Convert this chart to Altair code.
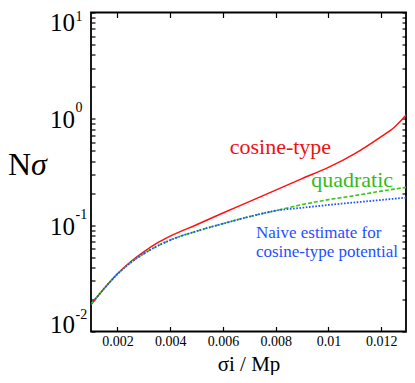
import altair as alt
import pandas as pd

# ---- data ----
sigma = [0.001, 0.0015, 0.002, 0.0025, 0.003, 0.0035, 0.004, 0.005, 0.006,
         0.007, 0.008, 0.009, 0.010, 0.011, 0.012, 0.0125, 0.013]
n_cosine = [0.018, 0.0254, 0.0349, 0.0453, 0.0562, 0.0677, 0.0788, 0.101,
            0.130, 0.1665, 0.2135, 0.274, 0.349, 0.471, 0.681, 0.834, 1.125]
n_quadratic = [0.018, 0.0254, 0.0346, 0.0444, 0.0539, 0.0634, 0.0723, 0.0878,
               0.1033, 0.1202, 0.1369, 0.156, 0.1738, 0.1895, 0.2089, 0.2183,
               0.228]
n_naive = [0.018, 0.0254, 0.0346, 0.0444, 0.0539, 0.0634, 0.0723, 0.0878,
           0.1033, 0.1202, 0.1369, 0.1458, 0.1549, 0.1636, 0.1726, 0.1773,
           0.182]

x_ticks = [0.002, 0.004, 0.006, 0.008, 0.01, 0.012]
y_ticks = [d * 10.0 ** e for e in (-2, -1, 0) for d in range(1, 10)] + [10.0]
y_label_exponents = [1, 0, -1, -2]

ann_cos = {"x": [0.00818], "y": [0.466], "t": ["cosine-type"]}
ann_quad = {"x": [0.0109], "y": [0.229], "t": ["quadratic"]}
ann_naive = {"x": [0.00725, 0.00725], "y": [0.0755, 0.050],
             "t": ["Naive estimate for", "cosine-type potential"]}

FONT = "Liberation Serif, 'Times New Roman', Times, 'DejaVu Serif', serif"
W, H = 315, 319
RED, GREEN, BLUE = "#ff1111", "#3cc814", "#1e50ff"

xscale = alt.Scale(domain=[0.001, 0.01294], nice=False, zero=False)
yscale = alt.Scale(type="log", domain=[0.01, 10], nice=False)

df = pd.concat([
    pd.DataFrame({"s": sigma, "n": n_cosine, "series": "cosine"}),
    pd.DataFrame({"s": sigma, "n": n_quadratic, "series": "quadratic"}),
    pd.DataFrame({"s": sigma, "n": n_naive, "series": "naive"}),
])

bottom_axis = alt.Axis(orient="bottom", values=x_ticks, format="~g", offset=-5,
                       tickSize=5, tickWidth=1.2, tickColor="black", domain=False,
                       grid=False, labelFont=FONT, labelFontSize=14,
                       labelColor="black", labelPadding=2.5,
                       title="σi / Mp", titleFont=FONT, titleFontSize=21,
                       titleFontWeight="normal", titleColor="black",
                       titleX=W / 2, titleY=44, titleAlign="center",
                       titleBaseline="alphabetic")
top_axis = alt.Axis(orient="top", values=x_ticks, offset=-5, tickSize=5,
                    tickWidth=1.2, tickColor="black", domain=False, grid=False,
                    labels=False, title=None)
left_axis = alt.Axis(orient="left", values=y_ticks, offset=-4, tickSize=4,
                     tickWidth=1.2, tickColor="black", domain=False, grid=False,
                     labels=False, title=None)
right_axis = alt.Axis(orient="right", values=y_ticks, offset=-4, tickSize=4,
                      tickWidth=1.2, tickColor="black", domain=False, grid=False,
                      labels=False, title=None)

base = alt.Chart(df)


def line(series, color, dash, width, xaxis, yaxis):
    mk = dict(color=color, strokeWidth=width, interpolate="monotone", clip=True)
    if dash:
        mk["strokeDash"] = dash
    return base.transform_filter(alt.datum.series == series).mark_line(**mk).encode(
        x=alt.X("s:Q", scale=xscale, axis=xaxis),
        y=alt.Y("n:Q", scale=yscale, axis=yaxis),
    )


red = line("cosine", RED, None, 1.5, bottom_axis, left_axis)
green = line("quadratic", GREEN, [4, 2], 1.6, top_axis, right_axis)
blue = line("naive", BLUE, [1.6, 1.6], 1.8, None, None)


def ann(d, color, size, align):
    return alt.Chart(pd.DataFrame(d)).mark_text(
        font=FONT, fontSize=size, color=color, align=align, baseline="alphabetic"
    ).encode(
        x=alt.X("x:Q", scale=xscale, axis=None),
        y=alt.Y("y:Q", scale=yscale, axis=None),
        text="t:N",
    )


a1 = ann(ann_cos, "#ee1111", 22, "center")
a2 = ann(ann_quad, "#36bb18", 22, "center")
a3 = ann(ann_naive, "#1f4fff", 17, "left")

lab = pd.DataFrame({"e": y_label_exponents})
lab["v"] = 10.0 ** lab["e"]
lab["m"] = "10"
lab["sup"] = lab["e"].astype(str)


def ylabels(cond, dy_main, dy_sup):
    src = alt.Chart(lab).transform_filter(cond)
    main = src.mark_text(font=FONT, fontSize=25, align="left",
                         baseline="alphabetic", dy=dy_main, color="black").encode(
        x=alt.value(-41), y=alt.Y("v:Q", scale=yscale, axis=None), text="m:N")
    sup = src.mark_text(font=FONT, fontSize=14, align="left",
                        baseline="alphabetic", dy=dy_sup, color="black").encode(
        x=alt.value(-15.5), y=alt.Y("v:Q", scale=yscale, axis=None), text="sup:N")
    return main + sup


lt = ylabels(alt.datum.e == 1, 18, 8.5)
lm = ylabels((alt.datum.e == 0) | (alt.datum.e == -1), 9.5, -6.5)
lb = ylabels(alt.datum.e == -2, 1.5, -12.5)

one = pd.DataFrame({"a": [0]})
tN = alt.Chart(one).mark_text(text="N", font=FONT, fontSize=32, align="left",
                              baseline="alphabetic", color="black").encode(
    x=alt.value(-83), y=alt.value(162.5))
tS = alt.Chart(one).mark_text(text="σ", font=FONT, fontSize=32, fontStyle="italic",
                              align="left", baseline="alphabetic",
                              color="black").encode(
    x=alt.value(-60), y=alt.value(162.5))

chart = alt.layer(red, green, blue, a1, a2, a3, lt, lm, lb, tN, tS).resolve_axis(
    x="independent", y="independent"
).properties(
    width=W, height=H,
    autosize=alt.AutoSizeParams(type="none"),
    padding={"left": 83, "top": 4.5, "right": 1, "bottom": 43.5},
).configure_view(stroke="black", strokeWidth=1.8)

chart.save("out.html", embed_options={"renderer": "svg", "actions": False})
